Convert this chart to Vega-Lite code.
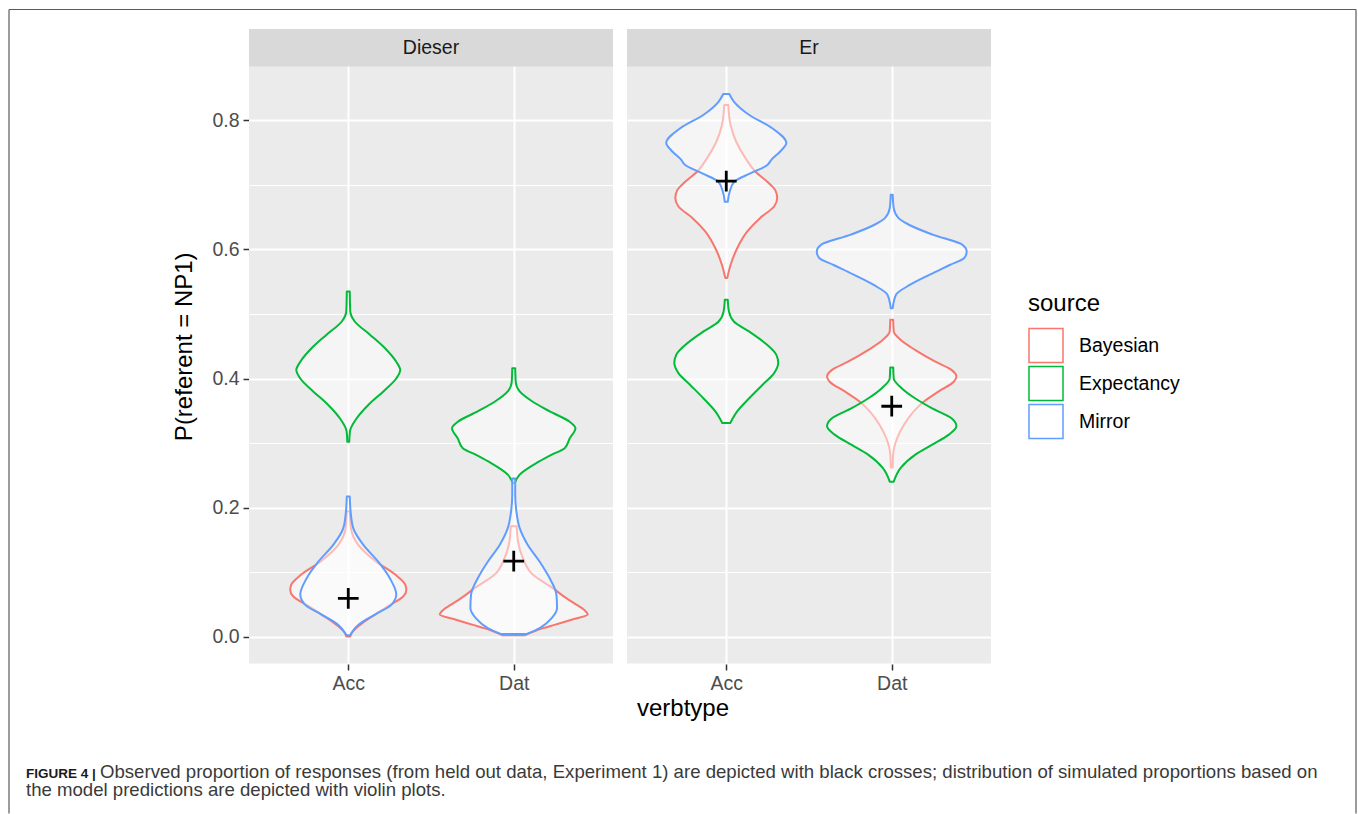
{
  "$schema": "https://vega.github.io/schema/vega-lite/v6.json",
  "background": "white",
  "padding": {"left": 8, "top": 8, "right": 0, "bottom": 0},
  "bounds": "flush",
  "spacing": 14,
  "data": {"values": [
    {"kind":"strip","panel":"Dieser"},
    {"kind":"strip","panel":"Er"},
    {"kind":"obs","panel":"Dieser","verbtype":"Acc","verbtype_index":1,"p":0.059},
    {"kind":"obs","panel":"Dieser","verbtype":"Dat","verbtype_index":2,"p":0.117},
    {"kind":"obs","panel":"Er","verbtype":"Acc","verbtype_index":1,"p":0.706},
    {"kind":"obs","panel":"Er","verbtype":"Dat","verbtype_index":2,"p":0.357},

    {"kind":"violin","panel":"Dieser","verbtype":"Acc","source":"Bayesian","p":0.000,"lo":0.988,"hi":1.012},
    {"kind":"violin","panel":"Dieser","verbtype":"Acc","source":"Bayesian","p":0.005,"lo":0.980,"hi":1.020},
    {"kind":"violin","panel":"Dieser","verbtype":"Acc","source":"Bayesian","p":0.018,"lo":0.929,"hi":1.071},
    {"kind":"violin","panel":"Dieser","verbtype":"Acc","source":"Bayesian","p":0.034,"lo":0.839,"hi":1.161},
    {"kind":"violin","panel":"Dieser","verbtype":"Acc","source":"Bayesian","p":0.049,"lo":0.748,"hi":1.252},
    {"kind":"violin","panel":"Dieser","verbtype":"Acc","source":"Bayesian","p":0.062,"lo":0.668,"hi":1.332},
    {"kind":"violin","panel":"Dieser","verbtype":"Acc","source":"Bayesian","p":0.072,"lo":0.649,"hi":1.351},
    {"kind":"violin","panel":"Dieser","verbtype":"Acc","source":"Bayesian","p":0.080,"lo":0.655,"hi":1.345},
    {"kind":"violin","panel":"Dieser","verbtype":"Acc","source":"Bayesian","p":0.096,"lo":0.716,"hi":1.284},
    {"kind":"violin","panel":"Dieser","verbtype":"Acc","source":"Bayesian","p":0.116,"lo":0.831,"hi":1.169},
    {"kind":"violin","panel":"Dieser","verbtype":"Acc","source":"Bayesian","p":0.142,"lo":0.940,"hi":1.060},
    {"kind":"violin","panel":"Dieser","verbtype":"Acc","source":"Bayesian","p":0.168,"lo":0.984,"hi":1.016},
    {"kind":"violin","panel":"Dieser","verbtype":"Acc","source":"Bayesian","p":0.194,"lo":0.991,"hi":1.009},

    {"kind":"violin","panel":"Dieser","verbtype":"Dat","source":"Bayesian","p":0.002,"lo":1.930,"hi":2.070},
    {"kind":"violin","panel":"Dieser","verbtype":"Dat","source":"Bayesian","p":0.013,"lo":1.822,"hi":2.178},
    {"kind":"violin","panel":"Dieser","verbtype":"Dat","source":"Bayesian","p":0.018,"lo":1.754,"hi":2.246},
    {"kind":"violin","panel":"Dieser","verbtype":"Dat","source":"Bayesian","p":0.026,"lo":1.651,"hi":2.349},
    {"kind":"violin","panel":"Dieser","verbtype":"Dat","source":"Bayesian","p":0.034,"lo":1.553,"hi":2.447},
    {"kind":"violin","panel":"Dieser","verbtype":"Dat","source":"Bayesian","p":0.042,"lo":1.577,"hi":2.423},
    {"kind":"violin","panel":"Dieser","verbtype":"Dat","source":"Bayesian","p":0.049,"lo":1.619,"hi":2.381},
    {"kind":"violin","panel":"Dieser","verbtype":"Dat","source":"Bayesian","p":0.059,"lo":1.680,"hi":2.320},
    {"kind":"violin","panel":"Dieser","verbtype":"Dat","source":"Bayesian","p":0.075,"lo":1.764,"hi":2.236},
    {"kind":"violin","panel":"Dieser","verbtype":"Dat","source":"Bayesian","p":0.096,"lo":1.885,"hi":2.115},
    {"kind":"violin","panel":"Dieser","verbtype":"Dat","source":"Bayesian","p":0.121,"lo":1.944,"hi":2.056},
    {"kind":"violin","panel":"Dieser","verbtype":"Dat","source":"Bayesian","p":0.147,"lo":1.974,"hi":2.026},
    {"kind":"violin","panel":"Dieser","verbtype":"Dat","source":"Bayesian","p":0.171,"lo":1.982,"hi":2.018},

    {"kind":"violin","panel":"Er","verbtype":"Acc","source":"Bayesian","p":0.556,"lo":0.994,"hi":1.006},
    {"kind":"violin","panel":"Er","verbtype":"Acc","source":"Bayesian","p":0.576,"lo":0.974,"hi":1.026},
    {"kind":"violin","panel":"Er","verbtype":"Acc","source":"Bayesian","p":0.602,"lo":0.934,"hi":1.066},
    {"kind":"violin","panel":"Er","verbtype":"Acc","source":"Bayesian","p":0.628,"lo":0.873,"hi":1.127},
    {"kind":"violin","panel":"Er","verbtype":"Acc","source":"Bayesian","p":0.649,"lo":0.795,"hi":1.205},
    {"kind":"violin","panel":"Er","verbtype":"Acc","source":"Bayesian","p":0.667,"lo":0.710,"hi":1.290},
    {"kind":"violin","panel":"Er","verbtype":"Acc","source":"Bayesian","p":0.680,"lo":0.692,"hi":1.308},
    {"kind":"violin","panel":"Er","verbtype":"Acc","source":"Bayesian","p":0.692,"lo":0.704,"hi":1.296},
    {"kind":"violin","panel":"Er","verbtype":"Acc","source":"Bayesian","p":0.705,"lo":0.752,"hi":1.248},
    {"kind":"violin","panel":"Er","verbtype":"Acc","source":"Bayesian","p":0.721,"lo":0.825,"hi":1.175},
    {"kind":"violin","panel":"Er","verbtype":"Acc","source":"Bayesian","p":0.742,"lo":0.885,"hi":1.115},
    {"kind":"violin","panel":"Er","verbtype":"Acc","source":"Bayesian","p":0.767,"lo":0.940,"hi":1.060},
    {"kind":"violin","panel":"Er","verbtype":"Acc","source":"Bayesian","p":0.793,"lo":0.974,"hi":1.026},
    {"kind":"violin","panel":"Er","verbtype":"Acc","source":"Bayesian","p":0.824,"lo":0.988,"hi":1.012},

    {"kind":"violin","panel":"Er","verbtype":"Dat","source":"Bayesian","p":0.262,"lo":1.994,"hi":2.006},
    {"kind":"violin","panel":"Er","verbtype":"Dat","source":"Bayesian","p":0.281,"lo":1.992,"hi":2.008},
    {"kind":"violin","panel":"Er","verbtype":"Dat","source":"Bayesian","p":0.307,"lo":1.968,"hi":2.032},
    {"kind":"violin","panel":"Er","verbtype":"Dat","source":"Bayesian","p":0.328,"lo":1.927,"hi":2.073},
    {"kind":"violin","panel":"Er","verbtype":"Dat","source":"Bayesian","p":0.349,"lo":1.867,"hi":2.133},
    {"kind":"violin","panel":"Er","verbtype":"Dat","source":"Bayesian","p":0.364,"lo":1.807,"hi":2.193},
    {"kind":"violin","panel":"Er","verbtype":"Dat","source":"Bayesian","p":0.380,"lo":1.716,"hi":2.284},
    {"kind":"violin","panel":"Er","verbtype":"Dat","source":"Bayesian","p":0.395,"lo":1.625,"hi":2.375},
    {"kind":"violin","panel":"Er","verbtype":"Dat","source":"Bayesian","p":0.403,"lo":1.609,"hi":2.391},
    {"kind":"violin","panel":"Er","verbtype":"Dat","source":"Bayesian","p":0.413,"lo":1.637,"hi":2.363},
    {"kind":"violin","panel":"Er","verbtype":"Dat","source":"Bayesian","p":0.426,"lo":1.736,"hi":2.264},
    {"kind":"violin","panel":"Er","verbtype":"Dat","source":"Bayesian","p":0.444,"lo":1.857,"hi":2.143},
    {"kind":"violin","panel":"Er","verbtype":"Dat","source":"Bayesian","p":0.460,"lo":1.947,"hi":2.053},
    {"kind":"violin","panel":"Er","verbtype":"Dat","source":"Bayesian","p":0.473,"lo":1.988,"hi":2.012},
    {"kind":"violin","panel":"Er","verbtype":"Dat","source":"Bayesian","p":0.491,"lo":1.991,"hi":2.009},

    {"kind":"violin","panel":"Dieser","verbtype":"Acc","source":"Expectancy","p":0.302,"lo":0.994,"hi":1.006},
    {"kind":"violin","panel":"Dieser","verbtype":"Acc","source":"Expectancy","p":0.318,"lo":0.990,"hi":1.010},
    {"kind":"violin","panel":"Dieser","verbtype":"Acc","source":"Expectancy","p":0.338,"lo":0.950,"hi":1.050},
    {"kind":"violin","panel":"Dieser","verbtype":"Acc","source":"Expectancy","p":0.359,"lo":0.879,"hi":1.121},
    {"kind":"violin","panel":"Dieser","verbtype":"Acc","source":"Expectancy","p":0.380,"lo":0.788,"hi":1.212},
    {"kind":"violin","panel":"Dieser","verbtype":"Acc","source":"Expectancy","p":0.400,"lo":0.710,"hi":1.290},
    {"kind":"violin","panel":"Dieser","verbtype":"Acc","source":"Expectancy","p":0.413,"lo":0.686,"hi":1.314},
    {"kind":"violin","panel":"Dieser","verbtype":"Acc","source":"Expectancy","p":0.426,"lo":0.710,"hi":1.290},
    {"kind":"violin","panel":"Dieser","verbtype":"Acc","source":"Expectancy","p":0.447,"lo":0.778,"hi":1.222},
    {"kind":"violin","panel":"Dieser","verbtype":"Acc","source":"Expectancy","p":0.468,"lo":0.869,"hi":1.131},
    {"kind":"violin","panel":"Dieser","verbtype":"Acc","source":"Expectancy","p":0.488,"lo":0.960,"hi":1.040},
    {"kind":"violin","panel":"Dieser","verbtype":"Acc","source":"Expectancy","p":0.504,"lo":0.988,"hi":1.012},
    {"kind":"violin","panel":"Dieser","verbtype":"Acc","source":"Expectancy","p":0.535,"lo":0.991,"hi":1.009},

    {"kind":"violin","panel":"Dieser","verbtype":"Dat","source":"Expectancy","p":0.238,"lo":1.994,"hi":2.006},
    {"kind":"violin","panel":"Dieser","verbtype":"Dat","source":"Expectancy","p":0.251,"lo":1.964,"hi":2.036},
    {"kind":"violin","panel":"Dieser","verbtype":"Dat","source":"Expectancy","p":0.271,"lo":1.849,"hi":2.151},
    {"kind":"violin","panel":"Dieser","verbtype":"Dat","source":"Expectancy","p":0.282,"lo":1.770,"hi":2.230},
    {"kind":"violin","panel":"Dieser","verbtype":"Dat","source":"Expectancy","p":0.292,"lo":1.692,"hi":2.308},
    {"kind":"violin","panel":"Dieser","verbtype":"Dat","source":"Expectancy","p":0.307,"lo":1.662,"hi":2.338},
    {"kind":"violin","panel":"Dieser","verbtype":"Dat","source":"Expectancy","p":0.323,"lo":1.627,"hi":2.373},
    {"kind":"violin","panel":"Dieser","verbtype":"Dat","source":"Expectancy","p":0.333,"lo":1.662,"hi":2.338},
    {"kind":"violin","panel":"Dieser","verbtype":"Dat","source":"Expectancy","p":0.349,"lo":1.782,"hi":2.218},
    {"kind":"violin","panel":"Dieser","verbtype":"Dat","source":"Expectancy","p":0.364,"lo":1.885,"hi":2.115},
    {"kind":"violin","panel":"Dieser","verbtype":"Dat","source":"Expectancy","p":0.380,"lo":1.964,"hi":2.036},
    {"kind":"violin","panel":"Dieser","verbtype":"Dat","source":"Expectancy","p":0.395,"lo":1.988,"hi":2.012},
    {"kind":"violin","panel":"Dieser","verbtype":"Dat","source":"Expectancy","p":0.416,"lo":1.991,"hi":2.009},

    {"kind":"violin","panel":"Er","verbtype":"Acc","source":"Expectancy","p":0.331,"lo":0.976,"hi":1.024},
    {"kind":"violin","panel":"Er","verbtype":"Acc","source":"Expectancy","p":0.349,"lo":0.934,"hi":1.066},
    {"kind":"violin","panel":"Er","verbtype":"Acc","source":"Expectancy","p":0.369,"lo":0.863,"hi":1.137},
    {"kind":"violin","panel":"Er","verbtype":"Acc","source":"Expectancy","p":0.390,"lo":0.782,"hi":1.218},
    {"kind":"violin","panel":"Er","verbtype":"Acc","source":"Expectancy","p":0.408,"lo":0.712,"hi":1.288},
    {"kind":"violin","panel":"Er","verbtype":"Acc","source":"Expectancy","p":0.424,"lo":0.686,"hi":1.314},
    {"kind":"violin","panel":"Er","verbtype":"Acc","source":"Expectancy","p":0.437,"lo":0.698,"hi":1.302},
    {"kind":"violin","panel":"Er","verbtype":"Acc","source":"Expectancy","p":0.452,"lo":0.752,"hi":1.248},
    {"kind":"violin","panel":"Er","verbtype":"Acc","source":"Expectancy","p":0.473,"lo":0.863,"hi":1.137},
    {"kind":"violin","panel":"Er","verbtype":"Acc","source":"Expectancy","p":0.488,"lo":0.953,"hi":1.047},
    {"kind":"violin","panel":"Er","verbtype":"Acc","source":"Expectancy","p":0.504,"lo":0.984,"hi":1.016},
    {"kind":"violin","panel":"Er","verbtype":"Acc","source":"Expectancy","p":0.522,"lo":0.991,"hi":1.009},

    {"kind":"violin","panel":"Er","verbtype":"Dat","source":"Expectancy","p":0.240,"lo":1.988,"hi":2.012},
    {"kind":"violin","panel":"Er","verbtype":"Dat","source":"Expectancy","p":0.261,"lo":1.947,"hi":2.053},
    {"kind":"violin","panel":"Er","verbtype":"Dat","source":"Expectancy","p":0.282,"lo":1.857,"hi":2.143},
    {"kind":"violin","panel":"Er","verbtype":"Dat","source":"Expectancy","p":0.297,"lo":1.758,"hi":2.242},
    {"kind":"violin","panel":"Er","verbtype":"Dat","source":"Expectancy","p":0.313,"lo":1.655,"hi":2.345},
    {"kind":"violin","panel":"Er","verbtype":"Dat","source":"Expectancy","p":0.326,"lo":1.609,"hi":2.391},
    {"kind":"violin","panel":"Er","verbtype":"Dat","source":"Expectancy","p":0.338,"lo":1.637,"hi":2.363},
    {"kind":"violin","panel":"Er","verbtype":"Dat","source":"Expectancy","p":0.354,"lo":1.758,"hi":2.242},
    {"kind":"violin","panel":"Er","verbtype":"Dat","source":"Expectancy","p":0.369,"lo":1.857,"hi":2.143},
    {"kind":"violin","panel":"Er","verbtype":"Dat","source":"Expectancy","p":0.385,"lo":1.940,"hi":2.060},
    {"kind":"violin","panel":"Er","verbtype":"Dat","source":"Expectancy","p":0.400,"lo":1.988,"hi":2.012},
    {"kind":"violin","panel":"Er","verbtype":"Dat","source":"Expectancy","p":0.417,"lo":1.991,"hi":2.009},

    {"kind":"violin","panel":"Dieser","verbtype":"Acc","source":"Mirror","p":0.002,"lo":0.988,"hi":1.012},
    {"kind":"violin","panel":"Dieser","verbtype":"Acc","source":"Mirror","p":0.005,"lo":0.982,"hi":1.018},
    {"kind":"violin","panel":"Dieser","verbtype":"Acc","source":"Mirror","p":0.018,"lo":0.940,"hi":1.060},
    {"kind":"violin","panel":"Dieser","verbtype":"Acc","source":"Mirror","p":0.034,"lo":0.839,"hi":1.161},
    {"kind":"violin","panel":"Dieser","verbtype":"Acc","source":"Mirror","p":0.049,"lo":0.740,"hi":1.260},
    {"kind":"violin","panel":"Dieser","verbtype":"Acc","source":"Mirror","p":0.065,"lo":0.710,"hi":1.290},
    {"kind":"violin","panel":"Dieser","verbtype":"Acc","source":"Mirror","p":0.090,"lo":0.748,"hi":1.252},
    {"kind":"violin","panel":"Dieser","verbtype":"Acc","source":"Mirror","p":0.116,"lo":0.819,"hi":1.181},
    {"kind":"violin","panel":"Dieser","verbtype":"Acc","source":"Mirror","p":0.142,"lo":0.909,"hi":1.091},
    {"kind":"violin","panel":"Dieser","verbtype":"Acc","source":"Mirror","p":0.168,"lo":0.970,"hi":1.030},
    {"kind":"violin","panel":"Dieser","verbtype":"Acc","source":"Mirror","p":0.194,"lo":0.986,"hi":1.014},
    {"kind":"violin","panel":"Dieser","verbtype":"Acc","source":"Mirror","p":0.217,"lo":0.991,"hi":1.009},

    {"kind":"violin","panel":"Dieser","verbtype":"Dat","source":"Mirror","p":0.004,"lo":1.921,"hi":2.079},
    {"kind":"violin","panel":"Dieser","verbtype":"Dat","source":"Mirror","p":0.013,"lo":1.843,"hi":2.157},
    {"kind":"violin","panel":"Dieser","verbtype":"Dat","source":"Mirror","p":0.028,"lo":1.772,"hi":2.228},
    {"kind":"violin","panel":"Dieser","verbtype":"Dat","source":"Mirror","p":0.044,"lo":1.738,"hi":2.262},
    {"kind":"violin","panel":"Dieser","verbtype":"Dat","source":"Mirror","p":0.065,"lo":1.742,"hi":2.258},
    {"kind":"violin","panel":"Dieser","verbtype":"Dat","source":"Mirror","p":0.090,"lo":1.782,"hi":2.218},
    {"kind":"violin","panel":"Dieser","verbtype":"Dat","source":"Mirror","p":0.116,"lo":1.843,"hi":2.157},
    {"kind":"violin","panel":"Dieser","verbtype":"Dat","source":"Mirror","p":0.142,"lo":1.915,"hi":2.085},
    {"kind":"violin","panel":"Dieser","verbtype":"Dat","source":"Mirror","p":0.168,"lo":1.964,"hi":2.036},
    {"kind":"violin","panel":"Dieser","verbtype":"Dat","source":"Mirror","p":0.194,"lo":1.984,"hi":2.016},
    {"kind":"violin","panel":"Dieser","verbtype":"Dat","source":"Mirror","p":0.220,"lo":1.991,"hi":2.009},
    {"kind":"violin","panel":"Dieser","verbtype":"Dat","source":"Mirror","p":0.245,"lo":1.991,"hi":2.009},

    {"kind":"violin","panel":"Er","verbtype":"Acc","source":"Mirror","p":0.674,"lo":0.991,"hi":1.009},
    {"kind":"violin","panel":"Er","verbtype":"Acc","source":"Mirror","p":0.690,"lo":0.979,"hi":1.021},
    {"kind":"violin","panel":"Er","verbtype":"Acc","source":"Mirror","p":0.705,"lo":0.952,"hi":1.048},
    {"kind":"violin","panel":"Er","verbtype":"Acc","source":"Mirror","p":0.718,"lo":0.855,"hi":1.145},
    {"kind":"violin","panel":"Er","verbtype":"Acc","source":"Mirror","p":0.731,"lo":0.752,"hi":1.248},
    {"kind":"violin","panel":"Er","verbtype":"Acc","source":"Mirror","p":0.739,"lo":0.728,"hi":1.272},
    {"kind":"violin","panel":"Er","verbtype":"Acc","source":"Mirror","p":0.752,"lo":0.674,"hi":1.326},
    {"kind":"violin","panel":"Er","verbtype":"Acc","source":"Mirror","p":0.765,"lo":0.637,"hi":1.363},
    {"kind":"violin","panel":"Er","verbtype":"Acc","source":"Mirror","p":0.788,"lo":0.722,"hi":1.278},
    {"kind":"violin","panel":"Er","verbtype":"Acc","source":"Mirror","p":0.809,"lo":0.863,"hi":1.137},
    {"kind":"violin","panel":"Er","verbtype":"Acc","source":"Mirror","p":0.829,"lo":0.953,"hi":1.047},
    {"kind":"violin","panel":"Er","verbtype":"Acc","source":"Mirror","p":0.841,"lo":0.982,"hi":1.018},

    {"kind":"violin","panel":"Er","verbtype":"Dat","source":"Mirror","p":0.509,"lo":1.994,"hi":2.006},
    {"kind":"violin","panel":"Er","verbtype":"Dat","source":"Mirror","p":0.530,"lo":1.974,"hi":2.026},
    {"kind":"violin","panel":"Er","verbtype":"Dat","source":"Mirror","p":0.545,"lo":1.891,"hi":2.109},
    {"kind":"violin","panel":"Er","verbtype":"Dat","source":"Mirror","p":0.561,"lo":1.770,"hi":2.230},
    {"kind":"violin","panel":"Er","verbtype":"Dat","source":"Mirror","p":0.576,"lo":1.649,"hi":2.351},
    {"kind":"violin","panel":"Er","verbtype":"Dat","source":"Mirror","p":0.587,"lo":1.561,"hi":2.439},
    {"kind":"violin","panel":"Er","verbtype":"Dat","source":"Mirror","p":0.597,"lo":1.547,"hi":2.453},
    {"kind":"violin","panel":"Er","verbtype":"Dat","source":"Mirror","p":0.607,"lo":1.571,"hi":2.429},
    {"kind":"violin","panel":"Er","verbtype":"Dat","source":"Mirror","p":0.623,"lo":1.752,"hi":2.248},
    {"kind":"violin","panel":"Er","verbtype":"Dat","source":"Mirror","p":0.638,"lo":1.893,"hi":2.107},
    {"kind":"violin","panel":"Er","verbtype":"Dat","source":"Mirror","p":0.649,"lo":1.960,"hi":2.040},
    {"kind":"violin","panel":"Er","verbtype":"Dat","source":"Mirror","p":0.664,"lo":1.988,"hi":2.012},
    {"kind":"violin","panel":"Er","verbtype":"Dat","source":"Mirror","p":0.685,"lo":1.994,"hi":2.006}
  ]},
  "facet": {
    "column": {
      "field": "panel", "type": "nominal", "title": "verbtype",
      "header": {"labels": false, "titleOrient": "bottom", "titleFont": "Liberation Sans", "titleFontSize": 24, "titleFontWeight": "normal", "titleColor": "black", "titlePadding": -6}
    }
  },
  "spec": {
    "width": 364,
    "height": 634.5,
    "layer": [
      {
        "transform": [{"filter": "datum.kind === 'violin'"}],
        "mark": {"type": "area", "orient": "horizontal", "interpolate": "monotone", "fill": "white", "fillOpacity": 0.5, "strokeWidth": 2, "strokeJoin": "round"},
        "encoding": {
          "y": {
            "field": "p", "type": "quantitative",
            "scale": {"domain": [-0.04186, 0.94186], "nice": false, "zero": false},
            "axis": {
              "title": "P(referent = NP1)",
              "values": [0, 0.1, 0.2, 0.3, 0.4, 0.5, 0.6, 0.7, 0.8],
              "labelExpr": "round(datum.value*10) % 2 === 0 ? format(datum.value, '.1f') : ''",
              "gridWidth": {"condition": {"test": "round(datum.value*10) % 2 === 0", "value": 2}, "value": 1.1},
              "tickOpacity": {"condition": {"test": "round(datum.value*10) % 2 === 0", "value": 1}, "value": 0},
              "labelOverlap": false,
              "titlePadding": 15
            }
          },
          "x": {
            "field": "lo", "type": "quantitative",
            "scale": {"domain": [0.4, 2.6], "nice": false, "zero": false},
            "axis": {"title": null, "values": [1, 2], "labelExpr": "datum.value === 1 ? 'Acc' : 'Dat'", "gridWidth": 2, "labelFlush": false, "labelOverlap": false}
          },
          "x2": {"field": "hi"},
          "stroke": {
            "field": "source", "type": "nominal",
            "scale": {"domain": ["Bayesian", "Expectancy", "Mirror"], "range": ["#F8766D", "#00BA38", "#619CFF"]},
            "legend": {
              "title": "source", "orient": "none", "legendX": 779, "legendY": 262.5,
              "symbolType": "square", "symbolSize": 1156, "symbolStrokeWidth": 1.5,
              "symbolFillColor": "#F2F2F2", "symbolOpacity": 1,
              "titleFont": "Liberation Sans", "titleFontSize": 24, "titleFontWeight": "normal", "titleColor": "black",
              "labelFont": "Liberation Sans", "labelFontSize": 19.5, "labelColor": "black",
              "labelOffset": 15, "rowPadding": -6, "titlePadding": 12, "padding": 0, "labelLimit": 300
            }
          },
          "detail": {"field": "verbtype"}
        }
      },
      {
        "transform": [{"filter": "datum.kind === 'obs'"}],
        "mark": {"type": "point", "shape": "M-1,0L1,0M0,-1L0,1", "size": 430, "filled": false, "color": "black", "strokeWidth": 2.8, "opacity": 1},
        "encoding": {
          "x": {"field": "verbtype_index", "type": "quantitative"},
          "y": {"field": "p", "type": "quantitative"}
        }
      },
      {
        "transform": [{"filter": "datum.kind === 'strip'"}],
        "mark": {"type": "rect", "fill": "#D9D9D9"},
        "encoding": {
          "x": {"datum": 0.4},
          "x2": {"datum": 2.6},
          "y": {"datum": 0.8837},
          "y2": {"datum": 0.94186}
        }
      },
      {
        "transform": [{"filter": "datum.kind === 'strip'"}],
        "mark": {"type": "text", "fontSize": 19.5, "color": "#1A1A1A", "baseline": "middle", "align": "center", "font": "Liberation Sans"},
        "encoding": {
          "x": {"datum": 1.5},
          "y": {"datum": 0.9128},
          "text": {"field": "panel"}
        }
      },
      {
        "transform": [{"filter": "datum.kind === 'strip' && datum.panel === 'Dieser'"}],
        "mark": {"type": "text", "text": "FIGURE 4 |", "fontSize": 13.5, "fontWeight": "bold", "color": "#1a1a1a", "align": "left", "baseline": "alphabetic", "font": "Liberation Sans"},
        "encoding": {
          "x": {"datum": -0.9478},
          "y": {"datum": -0.21907}
        }
      },
      {
        "transform": [{"filter": "datum.kind === 'strip' && datum.panel === 'Dieser'"}],
        "mark": {"type": "text", "text": "Observed proportion of responses (from held out data, Experiment 1) are depicted with black crosses; distribution of simulated proportions based on", "fontSize": 18.6, "color": "#3a3a3a", "align": "left", "baseline": "alphabetic", "font": "Liberation Sans"},
        "encoding": {
          "x": {"datum": -0.5005},
          "y": {"datum": -0.21907}
        }
      },
      {
        "transform": [{"filter": "datum.kind === 'strip' && datum.panel === 'Dieser'"}],
        "mark": {"type": "text", "text": "the model predictions are depicted with violin plots.", "fontSize": 18.6, "color": "#3a3a3a", "align": "left", "baseline": "alphabetic", "font": "Liberation Sans"},
        "encoding": {
          "x": {"datum": -0.9478},
          "y": {"datum": -0.2476}
        }
      },
      {
        "transform": [{"filter": "datum.kind === 'strip' && datum.panel === 'Dieser'"}],
        "mark": {"type": "rule", "color": "#5a5a5a", "strokeWidth": 1.2},
        "encoding": {
          "x": {"datum": -1.0505},
          "y": {"datum": 0.97209},
          "y2": {"datum": -0.27442}
        }
      },
      {
        "transform": [{"filter": "datum.kind === 'strip' && datum.panel === 'Dieser'"}],
        "mark": {"type": "rule", "color": "#5a5a5a", "strokeWidth": 1.2},
        "encoding": {
          "x": {"datum": -1.0505},
          "x2": {"datum": 7.0907},
          "y": {"datum": 0.97209}
        }
      },
      {
        "transform": [{"filter": "datum.kind === 'strip' && datum.panel === 'Dieser'"}],
        "mark": {"type": "rule", "color": "#5a5a5a", "strokeWidth": 1.2},
        "encoding": {
          "x": {"datum": 7.0907},
          "y": {"datum": 0.97209},
          "y2": {"datum": -0.27442}
        }
      }
    ]
  },
  "config": {
    "font": "Liberation Sans",
    "view": {"stroke": null, "fill": "#EBEBEB"},
    "axis": {
      "domain": false, "gridColor": "white", "tickColor": "#333333", "tickSize": 6, "tickWidth": 1.5,
      "labelColor": "#4D4D4D", "labelFontSize": 19.5, "labelPadding": 4, "labelFont": "Liberation Sans",
      "titleFont": "Liberation Sans", "titleFontSize": 24, "titleFontWeight": "normal", "titleColor": "black"
    }
  }
}
